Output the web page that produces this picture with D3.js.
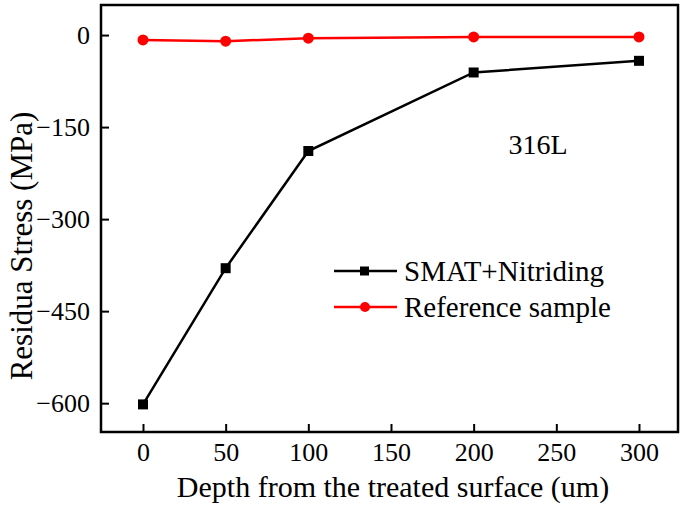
<!DOCTYPE html>
<html><head><meta charset="utf-8">
<script src="https://cdn.jsdelivr.net/npm/d3@7"></script>
<style>body{margin:0;background:#fff}svg{display:block}text{font-family:"Liberation Serif","Times New Roman",serif}</style>
</head><body>
<svg id="c" width="685" height="506"></svg>
<script>
const depth = [0, 50, 100, 200, 300];
const smat = [-602, -380, -189, -61, -42];
const reference = [-8, -10, -5, -3, -3];
const xTicks = [0, 50, 100, 150, 200, 250, 300];
const yTicks = [0, -150, -300, -450, -600];
const seriesNames = ["SMAT+Nitriding", "Reference sample"];

const svg = d3.select("#c");
const L = 101, R = 678, T = 5, B = 432;
const x = d3.scaleLinear().domain([-25.4, 323.6]).range([L, R]);
const y = d3.scaleLinear().domain([-647, 49]).range([B, T]);

const fmt = d => d < 0 ? "\u2212" + Math.abs(d) : String(d);

const gx = svg.append("g").attr("transform", `translate(0,${B})`)
  .call(d3.axisBottom(x).tickValues(xTicks).tickSize(-8).tickPadding(11).tickFormat(fmt));
const gy = svg.append("g").attr("transform", `translate(${L},0)`)
  .call(d3.axisLeft(y).tickValues(yTicks).tickSize(-8).tickPadding(11).tickFormat(fmt));
[gx, gy].forEach(g => {
  g.select(".domain").remove();
  g.selectAll(".tick line").attr("stroke", "#000").attr("stroke-width", 2);
  g.selectAll(".tick text").attr("fill", "#000").style("font-size", "26px");
});
svg.append("rect").attr("x", L).attr("y", T).attr("width", R - L).attr("height", B - T)
  .attr("fill", "none").attr("stroke", "#000").attr("stroke-width", 2.5);

const line = d3.line().x((d, i) => x(depth[i])).y(d => y(d));
svg.append("path").datum(smat).attr("d", line).attr("fill", "none").attr("stroke", "#000").attr("stroke-width", 2.5);
svg.append("path").datum(reference).attr("d", line).attr("fill", "none").attr("stroke", "#f00").attr("stroke-width", 2.5);
svg.selectAll(".sq").data(smat).enter().append("rect")
  .attr("x", (d, i) => x(depth[i]) - 5).attr("y", d => y(d) - 5).attr("width", 10).attr("height", 10).attr("fill", "#000");
svg.selectAll(".ci").data(reference).enter().append("circle")
  .attr("cx", (d, i) => x(depth[i])).attr("cy", d => y(d)).attr("r", 5.5).attr("fill", "#f00");

// legend
const lg = svg.append("g");
[["#000", "sq", 271], ["#f00", "ci", 307]].forEach(([c, m, yy], i) => {
  lg.append("line").attr("x1", 334).attr("x2", 397).attr("y1", yy).attr("y2", yy).attr("stroke", c).attr("stroke-width", 2.5);
  if (m === "sq") lg.append("rect").attr("x", 360).attr("y", yy - 4.5).attr("width", 9).attr("height", 9).attr("fill", c);
  else lg.append("circle").attr("cx", 365).attr("cy", yy).attr("r", 5).attr("fill", c);
  lg.append("text").attr("x", 404).attr("y", yy + 10).style("font-size", "29px").text(seriesNames[i]);
});

svg.append("text").attr("x", 538).attr("y", 154).attr("text-anchor", "middle").style("font-size", "28px").text("316L");
svg.append("text").attr("x", 393).attr("y", 497).attr("text-anchor", "middle").style("font-size", "30px").text("Depth from the treated surface (um)");
svg.append("text").attr("transform", "translate(32,246) rotate(-90)").attr("text-anchor", "middle").style("font-size", "31px").text("Residua Stress (MPa)");
</script>
</body></html>
